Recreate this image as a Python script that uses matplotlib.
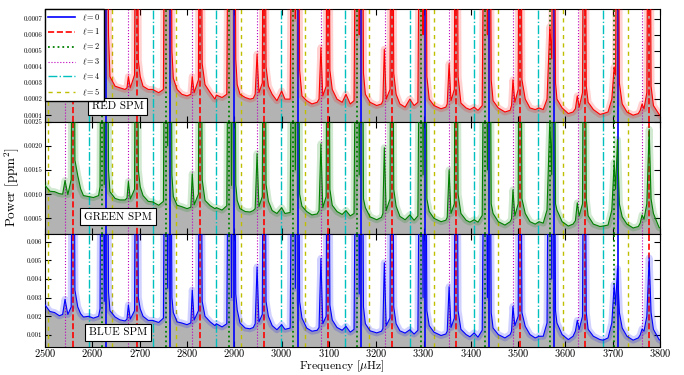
import numpy as np
import matplotlib
matplotlib.use("Agg")
import matplotlib.pyplot as plt
from matplotlib.ticker import FormatStrFormatter

plt.rcParams['font.family'] = ['cmr10', 'DejaVu Serif']
plt.rcParams['mathtext.fontset'] = 'cm'
plt.rcParams['axes.formatter.use_mathtext'] = True
plt.rcParams['axes.unicode_minus'] = False

# mode frequencies (muHz) for each degree
nu_l0 = [2629.7, 2764.2, 2899.0, 3033.8, 3168.6, 3303.5, 3439.0, 3574.9, 3710.7]
nu_l1 = [2559.2, 2693.4, 2828.2, 2963.3, 3098.2, 3233.2, 3368.7, 3504.2, 3640.4, 3776.8]
nu_l2 = [2619.7, 2754.6, 2889.6, 3024.8, 3160.0, 3295.2, 3430.9, 3567.0, 3703.2]
nu_l3 = [2541.6, 2676.2, 2811.4, 2946.9, 3082.3, 3217.7, 3353.6, 3489.7, 3626.2, 3762.8]
nu_l4 = [2593.0, 2727.5, 2862.0, 2998.0, 3134.5, 3270.5, 3406.5, 3543.0, 3679.5]
nu_l5 = [2506.0, 2641.5, 2777.5, 2913.5, 3049.5, 3185.5, 3321.5, 3457.5, 3595.0, 3732.5]

# spectrum sample frequencies (muHz)
freq = [
    2500, 2510, 2520, 2530, 2537, 2542, 2548, 2555, 2559, 2563, 2569, 2575, 2581, 2592, 2602, 2613, 2616, 2620, 2625, 2630, 2634,
    2637, 2648, 2658, 2669, 2673, 2676, 2680, 2689, 2693, 2697, 2701, 2707, 2718, 2727, 2740, 2750, 2755, 2759, 2764, 2768,
    2771, 2779, 2789, 2800, 2808, 2811, 2815, 2824, 2828, 2832, 2838, 2849, 2859, 2862, 2874, 2884, 2890, 2894, 2899, 2903,
    2906, 2912, 2923, 2933, 2940, 2944, 2948, 2952, 2959, 2963, 2967, 2972, 2980, 2990, 3000, 3007, 3018, 3025, 3029, 3034, 3038,
    3043, 3053, 3064, 3075, 3079, 3083, 3087, 3094, 3098, 3102, 3107, 3117, 3128, 3136, 3145, 3153, 3160, 3164, 3169, 3173,
    3177, 3187, 3201, 3211, 3214, 3217, 3221, 3229, 3233, 3237, 3242, 3250, 3261, 3271, 3280, 3288, 3295, 3299, 3303, 3307,
    3312, 3322, 3337, 3347, 3350, 3354, 3358, 3365, 3369, 3373, 3379, 3390, 3398, 3407, 3415, 3424, 3431, 3435, 3439, 3443,
    3447, 3458, 3472, 3483, 3486, 3489, 3493, 3500, 3504, 3508, 3515, 3525, 3536, 3544, 3553, 3561, 3567, 3571, 3575, 3579,
    3582, 3593, 3606, 3616, 3621, 3625, 3629, 3636, 3640, 3644, 3648, 3659, 3673, 3680, 3690, 3698, 3703, 3706, 3710, 3714,
    3720, 3730, 3743, 3754, 3758, 3762, 3766, 3772, 3777, 3781, 3786, 3798, 3800,
]

# red SPM power, units of 1e-4 ppm^2
red_power = [
    3.4, 3.1, 3.1, 3.0, 3.1, 3.9, 3.1, 4.2, 30, 5.5, 4.1, 3.3, 2.9, 2.95, 2.8, 3.0, 3.6, 30, 9, 30, 6.0,
    3.4, 2.8, 2.7, 2.6, 2.7, 3.4, 2.7, 3.5, 30, 4.4, 3.4, 2.8, 2.6, 2.6, 2.4, 2.6, 30, 8, 30, 5.0,
    3.3, 2.6, 2.3, 2.2, 2.3, 3.4, 2.4, 3.2, 30, 4.2, 2.9, 2.4, 2.0, 2.25, 2.1, 2.3, 30, 8, 30, 4.5,
    2.9, 2.3, 2.1, 2.0, 2.05, 2.3, 4.8, 2.4, 3.0, 30, 4.0, 2.8, 2.3, 1.9, 2.5, 2.0, 2.0, 30, 7, 30, 3.8,
    2.2, 1.9, 1.7, 1.8, 2.0, 5.2, 2.2, 2.8, 30, 3.8, 2.6, 2.0, 1.8, 2.3, 1.7, 1.9, 30, 6, 30, 3.6,
    2.3, 1.8, 1.6, 1.7, 1.9, 5.1, 2.0, 2.6, 30, 3.6, 2.3, 1.7, 1.5, 2.0, 1.6, 1.8, 30, 6, 30, 3.4,
    2.0, 1.6, 1.4, 1.5, 1.7, 4.2, 1.9, 2.6, 30, 3.4, 1.75, 1.45, 1.35, 1.5, 1.3, 1.6, 30, 6, 30, 3.2,
    1.9, 1.45, 1.2, 1.3, 1.6, 3.2, 1.8, 2.6, 30, 3.2, 2.0, 1.45, 1.35, 1.45, 1.35, 2.0, 6.5, 4.5, 30, 3.0,
    2.0, 1.45, 1.1, 1.2, 1.4, 2.2, 1.5, 2.4, 30, 2.8, 1.8, 1.35, 1.05, 1.1, 1.2, 2.0, 4.0, 3.5, 30, 3.0,
    1.7, 1.2, 1.0, 1.1, 1.3, 1.7, 1.4, 2.4, 30, 2.8, 1.6, 1.05, 1.0,
]

# green SPM power, units of 1e-4 ppm^2
green_power = [
    11.8, 10.6, 10.5, 10.1, 10.0, 12.8, 9.9, 13, 100, 17, 13.8, 11.1, 9.7, 9.5, 9.3, 9.7, 11.5, 100, 12, 100, 15,
    10.5, 9.1, 8.8, 8.8, 9.2, 12.6, 9.0, 11, 100, 15, 11.5, 9.7, 8.5, 8.4, 7.7, 8.5, 100, 20, 100, 14,
    9.5, 7.7, 7.4, 7.0, 7.3, 14.2, 7.8, 10, 100, 13, 8.7, 7.6, 7.0, 7.2, 6.7, 7.6, 100, 11.8, 100, 12,
    8.7, 7.0, 6.4, 6.3, 6.6, 7.0, 18.4, 7.4, 9.5, 100, 12, 8.5, 6.6, 6.0, 7.2, 6.0, 6.2, 100, 15, 100, 10,
    7.5, 6.4, 5.7, 5.9, 6.6, 20.4, 7.2, 9.5, 100, 11, 7.7, 6.4, 5.8, 6.6, 5.5, 6.0, 100, 14, 100, 9,
    7.2, 5.3, 4.7, 5.2, 6.0, 19.6, 6.6, 9, 100, 11, 7.5, 5.4, 4.7, 5.7, 4.6, 5.5, 100, 14, 100, 9,
    6.4, 5.0, 4.3, 4.6, 5.2, 15, 6.0, 8, 100, 10, 6.0, 4.6, 4.2, 4.7, 4.2, 5.6, 100, 15, 100, 8,
    6.0, 4.3, 3.6, 4.3, 4.9, 10.9, 5.5, 8, 100, 9, 6.0, 4.3, 3.8, 4.3, 4.0, 6.7, 25.5, 14, 100, 8,
    6.7, 4.3, 3.4, 3.8, 4.5, 8.2, 5.5, 8, 100, 9, 5.5, 3.8, 3.3, 3.4, 3.6, 6.7, 16.6, 11, 21.3, 8,
    5.3, 3.8, 3.0, 3.3, 4.0, 5.7, 4.8, 8, 23.4, 9, 6.0, 3.1, 3.0,
]

# blue SPM power, units of 1e-3 ppm^2
blue_power = [
    2.6, 2.26, 2.2, 2.03, 2.1, 2.91, 2.1, 2.5, 25, 3.4, 2.5, 2.14, 1.96, 2.0, 1.9, 2.0, 2.4, 25, 2.8, 25, 3.3,
    2.3, 1.96, 1.81, 1.75, 1.85, 2.61, 1.85, 2.3, 25, 3.0, 2.4, 2.0, 1.78, 1.78, 1.67, 1.9, 25, 3.5, 25, 3.0,
    2.2, 1.7, 1.64, 1.55, 1.65, 3.41, 1.8, 2.3, 25, 2.8, 2.0, 1.7, 1.5, 1.6, 1.43, 1.6, 25, 3.0, 25, 3.2,
    2.35, 1.64, 1.37, 1.33, 1.4, 1.6, 4.65, 1.7, 2.1, 25, 2.8, 2.0, 1.5, 1.28, 1.55, 1.3, 1.37, 25, 3.5, 25, 2.8,
    1.9, 1.37, 1.2, 1.25, 1.4, 5.1, 1.6, 2.0, 25, 2.6, 1.8, 1.4, 1.25, 1.46, 1.15, 1.3, 25, 3.2, 25, 2.5,
    1.6, 1.22, 1.11, 1.2, 1.35, 4.87, 1.5, 1.9, 25, 2.5, 1.6, 1.22, 1.1, 1.28, 1.05, 1.25, 25, 3.0, 25, 2.3,
    1.5, 1.15, 0.97, 1.05, 1.2, 3.59, 1.4, 1.9, 25, 2.3, 1.3, 1.02, 0.9, 1.11, 0.88, 1.25, 25, 3.0, 25, 2.2,
    1.37, 1.02, 0.84, 1.02, 1.2, 2.53, 1.5, 2.0, 25, 2.2, 1.46, 1.02, 0.84, 0.93, 0.93, 1.64, 25, 4.0, 25, 2.3,
    1.64, 1.02, 0.75, 0.93, 1.2, 1.78, 1.3, 2.0, 25, 2.2, 1.3, 0.93, 0.75, 0.72, 0.84, 1.64, 3.71, 2.6, 4.56, 2.2,
    1.37, 0.93, 0.72, 0.84, 1.0, 1.32, 1.2, 2.0, 5.13, 2.2, 1.3, 0.75, 0.72,
]

freq = np.array(freq, dtype=float)
panels = [
    ('RED SPM', np.array(red_power) * 1e-4, 'r', (0.00006, 0.00076),
     [0.0001, 0.0002, 0.0003, 0.0004, 0.0005, 0.0006, 0.0007], '%.4f', 0.135),
    ('GREEN SPM', np.array(green_power) * 1e-4, 'g', (0.00017, 0.0025),
     [0.0005, 0.0010, 0.0015, 0.0020, 0.0025], '%.4f', 0.155),
    ('BLUE SPM', np.array(blue_power) * 1e-3, 'b', (0.00036, 0.0064),
     [0.001, 0.002, 0.003, 0.004, 0.005, 0.006], '%.3f', 0.13),
]

modes = [
    (nu_l0, dict(color='b', ls='-', lw=1.2), r'$\ell=0$'),
    (nu_l1, dict(color='r', ls='--', lw=1.2), r'$\ell=1$'),
    (nu_l2, dict(color='g', ls=':', lw=1.3), r'$\ell=2$'),
    (nu_l3, dict(color='m', ls=':', lw=0.8), r'$\ell=3$'),
    (nu_l4, dict(color='c', ls='-.', lw=1.0), r'$\ell=4$'),
    (nu_l5, dict(color='y', ls=(0, (3, 3)), lw=1.0), r'$\ell=5$'),
]

fig, axes = plt.subplots(3, 1, sharex=True, figsize=(6.84, 3.75), dpi=100)
fig.subplots_adjust(left=0.066, right=0.965, top=0.976, bottom=0.075, hspace=0)

for ax, (name, power, c, ylim, yt, fmt, ty) in zip(axes, panels):
    ax.fill_between(freq, 0, power, color='#b3b3b3', lw=0, zorder=1)
    for nus, style, lab in modes:
        for i, nu in enumerate(nus):
            ax.axvline(nu, label=lab if i == 0 else None, zorder=2, **style)
    ax.plot(freq, power, color=c, lw=5, alpha=0.18, zorder=3)
    ax.plot(freq, power, color=c, lw=0.8, zorder=4)
    ax.set_xlim(2500, 3800)
    ax.set_ylim(*ylim)
    ax.set_yticks(yt)
    ax.yaxis.set_major_formatter(FormatStrFormatter(fmt))
    ax.tick_params(direction='in', top=True, right=True, length=4, labelsize=5, pad=2)
    ax.tick_params(axis='x', labelsize=7.5, pad=0.3)
    ax.text(0.118, ty, name, transform=ax.transAxes, ha='center', va='center',
            fontsize=8, zorder=6,
            bbox=dict(facecolor='white', edgecolor='black', boxstyle='square,pad=0.35', lw=0.8))

axes[2].set_xticks(np.arange(2500, 3801, 100))
leg = axes[0].legend(loc='upper left', fontsize=6, handlelength=3.2, borderaxespad=0,
                     fancybox=False, framealpha=1, edgecolor='black', labelspacing=0.55)
leg.set_zorder(10)

fig.text(12 / 684, 0.5, r'Power [ppm$^2$]', rotation=90, ha='center', va='center', fontsize=9.5)
fig.text(0.5, 0.5 / 375, r'Frequency [$\mu$Hz]', ha='center', va='bottom', fontsize=8.5)

fig.savefig('out.png', dpi=100)
